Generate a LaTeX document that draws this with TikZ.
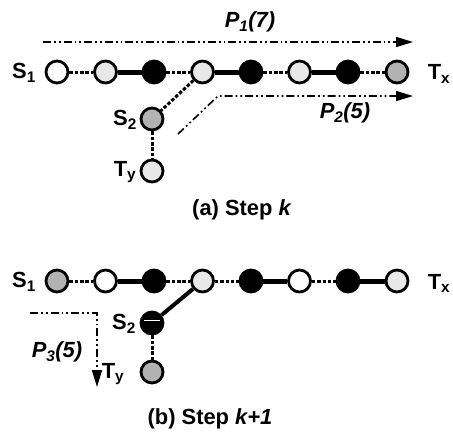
\documentclass[tikz,border=0pt]{standalone}
\usepackage{fontspec}
\setmainfont{Liberation Sans}
\usetikzlibrary{arrows.meta}
\newcommand{\sbs}[1]{\textsubscript{#1}}
\tikzset{
  vtx/.style={circle, draw=black, line width=2.8bp, minimum size=22bp, inner sep=0pt},
  wh/.style={vtx, fill=white},
  lg/.style={vtx, fill=black!9},
  mg/.style={vtx, fill=black!30},
  bk/.style={vtx, fill=black},
  lab/.style={font=\bfseries\fontsize{22}{24}\selectfont, inner sep=0pt},
  plab/.style={font=\bfseries\itshape\fontsize{22}{24}\selectfont, inner sep=0pt},
  captxt/.style={font=\bfseries\fontsize{22}{24}\selectfont, inner sep=0pt},
  dl/.style={line width=3bp, dash pattern=on 3.5bp off 1.8bp},
  sl/.style={line width=5bp},
  parr/.style={line width=1.6bp, dash pattern=on 8bp off 3bp on 1.8bp off 3bp on 1.8bp off 3bp, -{Triangle[length=17bp,width=10bp]}},
}
\begin{document}
\begin{tikzpicture}[x=1bp,y=-1bp]
\useasboundingbox (0,0) rectangle (453,431);
% ---------- (a) ----------
\node[wh] (a1) at (57,72) {};
\node[lg] (a2) at (105.5,72) {};
\node[bk] (a3) at (154,72) {};
\node[lg] (a4) at (202.5,72) {};
\node[bk] (a5) at (251,72) {};
\node[lg] (a6) at (299.5,72) {};
\node[bk] (a7) at (348,72) {};
\node[mg] (a8) at (397,72) {};
\node[mg] (aS2) at (152,119) {};
\node[lg] (aTy) at (152,171) {};
\node[lab] (aS1l) at (24,73) {S\sbs{1}};
\node[lab] (aTxl) at (439,74) {T\sbs{x}};
\node[lab] (aS2l) at (125,120) {S\sbs{2}};
\node[lab] (aTyl) at (125,172) {T\sbs{y}};
\draw[dl] (a1) -- (a2);
\draw[sl] (a2) -- (a3);
\draw[dl] (a3) -- (a4);
\draw[sl] (a4) -- (a5);
\draw[dl] (a5) -- (a6);
\draw[sl] (a6) -- (a7);
\draw[dl] (a7) -- (a8);
\draw[dl] (a4) -- (aS2);
\draw[dl] (aS2) -- (aTy);
\coordinate (p1s) at (43,42);
\coordinate (p1e) at (413,42);
\draw[parr] (p1s) -- (p1e);
\node[plab] (p1l) at (250,22) {P\sbs{1}(7)};
\coordinate (p2s) at (178,134);
\coordinate (p2m) at (218,96);
\coordinate (p2e) at (413,96);
\draw[parr] (p2s) -- (p2m) -- (p2e);
\node[plab] (p2l) at (345,113) {P\sbs{2}(5)};
\node[captxt] (capa) at (242,210) {(a) Step \textit{k}};
% ---------- (b) ----------
\node[mg] (b1) at (57,281) {};
\node[wh] (b2) at (105.5,281) {};
\node[bk] (b3) at (154,281) {};
\node[lg] (b4) at (202.5,281) {};
\node[bk] (b5) at (251,281) {};
\node[wh] (b6) at (299.5,281) {};
\node[bk] (b7) at (348,281) {};
\node[lg] (b8) at (397,281) {};
\node[bk] (bS2) at (152,323) {};
\node[mg] (bTy) at (152,372) {};
\draw[white, line width=0.8bp] ([xshift=-8bp,yshift=3bp]bS2.center) -- ([xshift=8bp,yshift=3bp]bS2.center);
\node[lab] (bS1l) at (24,282) {S\sbs{1}};
\node[lab] (bTxl) at (439,283) {T\sbs{x}};
\node[lab] (bS2l) at (124,324) {S\sbs{2}};
\node[lab] (bTyl) at (113,374) {T\sbs{y}};
\draw[dl] (b1) -- (b2);
\draw[sl] (b2) -- (b3);
\draw[dl] (b3) -- (b4);
\draw[dl] (b4) -- (b5);
\draw[sl] (b5) -- (b6);
\draw[dl] (b6) -- (b7);
\draw[sl] (b7) -- (b8);
\draw[line width=4bp] (b4) -- (bS2);
\draw[dl] (bS2) -- (bTy);
\coordinate (p3s) at (30,313);
\coordinate (p3m) at (97,313);
\coordinate (p3e) at (97,387);
\draw[parr] (p3s) -- (p3m) -- (p3e);
\node[plab] (p3l) at (57,352) {P\sbs{3}(5)};
\node[captxt] (capb) at (210,419) {(b) Step \textit{k+1}};
\end{tikzpicture}
\end{document}
